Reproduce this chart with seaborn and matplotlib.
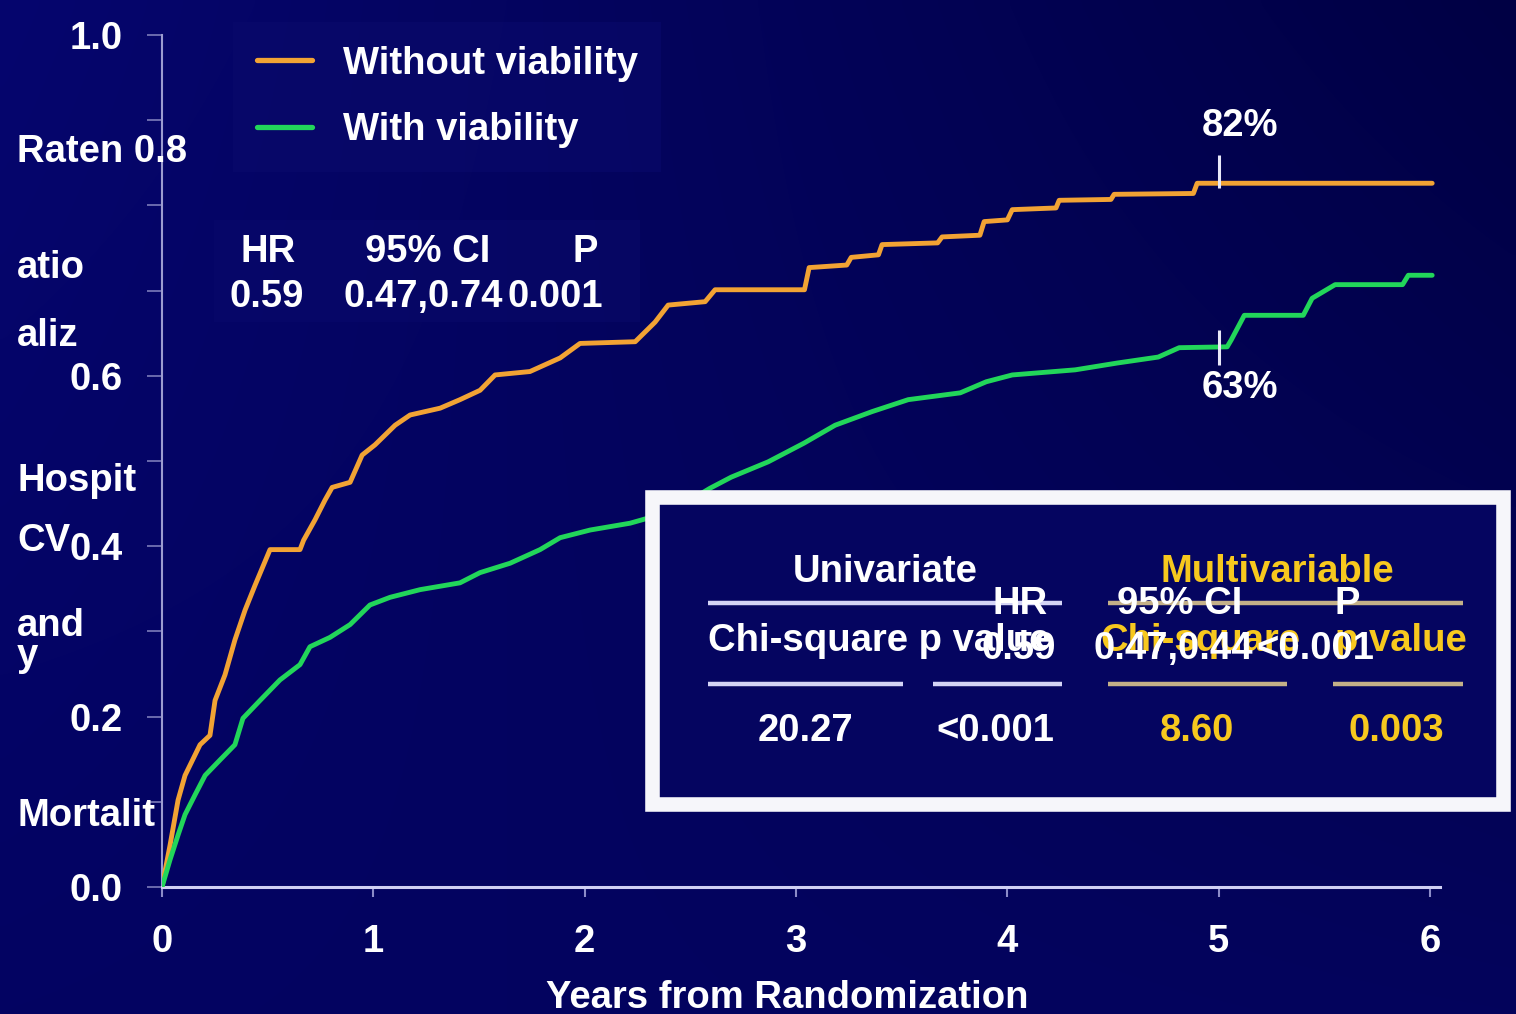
import numpy as np
import pandas as pd
import matplotlib
matplotlib.use("Agg")
import matplotlib.pyplot as plt
from matplotlib.patches import Rectangle
from matplotlib.lines import Line2D
import seaborn as sns

# Cumulative event curves (years from randomization, event rate)
without_years = [0.000, 0.038, 0.076, 0.109, 0.180, 0.227, 0.251, 0.298, 0.345, 0.393,
                 0.440, 0.511, 0.653, 0.670, 0.724, 0.771, 0.805, 0.890, 0.947, 1.008,
                 1.103, 1.174, 1.316, 1.410, 1.505, 1.576, 1.741, 1.884, 1.978, 2.239,
                 2.333, 2.395, 2.570, 2.617, 3.040, 3.062, 3.240, 3.261, 3.390, 3.407,
                 3.670, 3.691, 3.870, 3.890, 4.000, 4.023, 4.230, 4.245, 4.490, 4.505,
                 4.880, 4.898, 6.010]
without_rate = [0.000, 0.049, 0.102, 0.131, 0.167, 0.178, 0.219, 0.249, 0.290, 0.325,
                0.354, 0.396, 0.396, 0.407, 0.431, 0.454, 0.469, 0.475, 0.507, 0.519,
                0.542, 0.554, 0.562, 0.572, 0.583, 0.601, 0.605, 0.621, 0.638, 0.640,
                0.663, 0.683, 0.687, 0.701, 0.701, 0.727, 0.730, 0.739, 0.742, 0.754,
                0.756, 0.763, 0.765, 0.781, 0.783, 0.795, 0.797, 0.806, 0.807, 0.813,
                0.814, 0.826, 0.826]

with_years = [0.000, 0.038, 0.076, 0.109, 0.156, 0.204, 0.274, 0.345, 0.383, 0.464,
              0.558, 0.653, 0.700, 0.795, 0.890, 0.984, 1.079, 1.221, 1.410, 1.505,
              1.647, 1.789, 1.884, 2.026, 2.215, 2.357, 2.499, 2.593, 2.693, 2.868,
              3.038, 3.185, 3.360, 3.531, 3.777, 3.900, 4.023, 4.321, 4.520, 4.714,
              4.813, 5.040, 5.059, 5.121, 5.400, 5.442, 5.551, 5.870, 5.897, 6.010]
with_rate = [0.000, 0.032, 0.061, 0.085, 0.108, 0.131, 0.149, 0.167, 0.198, 0.219,
             0.243, 0.261, 0.282, 0.293, 0.308, 0.331, 0.340, 0.349, 0.357, 0.369,
             0.380, 0.396, 0.410, 0.419, 0.427, 0.437, 0.454, 0.468, 0.481, 0.499,
             0.521, 0.542, 0.558, 0.572, 0.580, 0.593, 0.601, 0.607, 0.615, 0.622,
             0.633, 0.634, 0.642, 0.671, 0.671, 0.691, 0.707, 0.707, 0.718, 0.718]

series_names = ["Without viability", "With viability"]
series_colors = ["#f2a334", "#22d65a"]

# Five-year marks
mark_year = 5
mark_labels = ["82%", "63%"]
mark_spans = [(0.820, 0.859), (0.613, 0.654)]
mark_text_y = [0.893, 0.586]

y_ticks = [0.0, 0.1, 0.2, 0.3, 0.4, 0.5, 0.6, 0.7, 0.8, 0.9, 1.0]
y_ticklabels = ["0.0", "", "0.2", "", "0.4", "", "0.6", "", "", "", "1.0"]
x_ticks = [0, 1, 2, 3, 4, 5, 6]

hr_header = ["HR", "95% CI", "P"]
hr_values = ["0.59", "0.47,0.74", "0.001"]

W, H = 1516, 1014
WHITE = "#ffffff"
GOLD = "#f7c81e"
FS = 27.5

sns.set_style("ticks")
plt.rcParams["font.family"] = ["Liberation Sans", "DejaVu Sans"]
plt.rcParams["font.weight"] = "bold"

fig = plt.figure(figsize=(W / 100, H / 100), dpi=100)


def fx(px):
    return px / W


def fy(py):
    return 1 - py / H


# Background with a soft colour gradient
bg = fig.add_axes([0, 0, 1, 1], zorder=-10)
tl = np.array([6, 6, 110]) / 255
tr = np.array([0, 0, 68]) / 255
bl = np.array([3, 3, 98]) / 255
br = np.array([4, 4, 92]) / 255
u = np.linspace(0, 1, 200)[None, :, None]
v = np.linspace(0, 1, 140)[:, None, None]
grad = (1 - v) * ((1 - u) * tl + u * tr) + v * ((1 - u) * bl + u * br)
bg.imshow(grad, aspect="auto", extent=[0, 1, 0, 1], interpolation="bicubic")
bg.set_axis_off()

ax = fig.add_axes([fx(162), fy(887), fx(1440) - fx(162), fy(35) - fy(887)])
ax.set_facecolor("none")

frames = []
for name, xs, ys in [(series_names[0], without_years, without_rate),
                     (series_names[1], with_years, with_rate)]:
    frames.append(pd.DataFrame({"year": xs, "rate": ys, "group": name}))
df = pd.concat(frames, ignore_index=True)

sns.lineplot(data=df, x="year", y="rate", hue="group", hue_order=series_names,
             palette=series_colors, estimator=None, sort=False,
             linewidth=3.5, ax=ax, legend=False, zorder=3)

ax.set_xlim(0, 6.047)
ax.set_ylim(0, 1.0)
ax.set_yticks(y_ticks)
ax.set_yticklabels(y_ticklabels)
ax.set_xticks(x_ticks)
ax.set_xticklabels([str(t) for t in x_ticks])
ax.set_xlabel("")
ax.set_ylabel("")
for s in ["top", "right"]:
    ax.spines[s].set_visible(False)
ax.spines["left"].set_color("#9c9cd0")
ax.spines["left"].set_linewidth(1.5)
ax.spines["bottom"].set_color("#d0d0f4")
ax.spines["bottom"].set_linewidth(2.2)
ax.tick_params(axis="y", direction="out", length=11, width=1.2, color="#7c7cba",
               pad=17, labelsize=FS, labelcolor=WHITE)
ax.tick_params(axis="x", direction="out", length=7, width=1.5, color="#8c8cc8",
               pad=20, labelsize=FS, labelcolor=WHITE)
for lab in ax.get_xticklabels() + ax.get_yticklabels():
    lab.set_fontweight("bold")

# Five-year markers
for (lo, hi), lab, ty in zip(mark_spans, mark_labels, mark_text_y):
    ax.vlines(mark_year, lo, hi, color="#e8e8f8", linewidth=2.2, zorder=4)
    ax.text(mark_year + 0.1, ty, lab, color=WHITE, fontsize=FS, fontweight="bold",
            ha="center", va="center", zorder=4)

# Legend
handles = [Line2D([], [], color=c, linewidth=3.8) for c in series_colors]
leg = fig.legend(handles, series_names, loc="upper left",
                 bbox_to_anchor=(fx(233), fy(22)), frameon=True, fontsize=FS,
                 handlelength=1.45, handletextpad=0.8, labelspacing=0.8,
                 borderpad=0.62, borderaxespad=0.0, fancybox=False)
leg.get_frame().set_facecolor("#0a0a6c")
leg.get_frame().set_edgecolor("none")
leg.get_frame().set_alpha(0.55)
for t in leg.get_texts():
    t.set_color(WHITE)
    t.set_fontweight("bold")

# Fragmented axis title
for txt, py in [("Raten 0.8", 162), ("atio", 278), ("aliz", 346), ("Hospit", 491),
                ("CV", 551), ("and", 636), ("y", 666), ("Mortalit", 826)]:
    fig.text(fx(17), fy(py), txt, color=WHITE, fontsize=FS, fontweight="bold",
             ha="left", va="baseline")

fig.text(fx(787), fy(1008), "Years from Randomization", color=WHITE, fontsize=FS,
         fontweight="bold", ha="center", va="baseline")

# Hazard ratio summary
fig.patches.append(Rectangle((fx(214), fy(322)), fx(640) - fx(214), fy(220) - fy(322),
                             transform=fig.transFigure, facecolor="#0a0a6c",
                             alpha=0.45, edgecolor="none", zorder=1))
for txt, px in zip(hr_header, [268, 428, 585]):
    fig.text(fx(px), fy(262), txt, color=WHITE, fontsize=FS, fontweight="bold",
             ha="center", va="baseline")
for txt, px in zip(hr_values, [267, 423, 555]):
    fig.text(fx(px), fy(307), txt, color=WHITE, fontsize=FS, fontweight="bold",
             ha="center", va="baseline")

# Framed test table
fig.patches.append(Rectangle((fx(652), fy(804)), fx(1503) - fx(652), fy(497) - fy(804),
                             transform=fig.transFigure, facecolor="#050560",
                             edgecolor="#f6f6fa", linewidth=10.5, zorder=5))

rule_white = "#d4d4f6"
rule_tan = "#c4b088"
for (x0, x1, py, col) in [(708, 1062, 603, rule_white), (1108, 1463, 603, rule_tan),
                          (708, 903, 684, rule_white), (933, 1062, 684, rule_white),
                          (1108, 1287, 684, rule_tan), (1333, 1463, 684, rule_tan)]:
    fig.add_artist(Line2D([fx(x0), fx(x1)], [fy(py), fy(py)], transform=fig.transFigure,
                          color=col, linewidth=3.2, solid_capstyle="butt", zorder=6))

table_text = [
    ("Univariate", 885, 582, WHITE, "center"),
    ("Multivariable", 1277, 582, GOLD, "center"),
    ("Chi-square", 1100, 651, GOLD, "left"),
    ("p value", 1335, 651, GOLD, "left"),
    ("Chi-square p value", 708, 651, WHITE, "left"),
    ("HR", 1020, 614, WHITE, "center"),
    ("95% CI", 1180, 614, WHITE, "center"),
    ("P", 1347, 614, WHITE, "center"),
    ("0.59", 1019, 659, WHITE, "center"),
    ("0.47,0.44", 1173, 659, WHITE, "center"),
    ("<0.001", 1315, 659, WHITE, "center"),
    ("20.27", 805, 741, WHITE, "center"),
    ("<0.001", 995, 741, WHITE, "center"),
    ("8.60", 1197, 741, GOLD, "center"),
    ("0.003", 1396, 741, GOLD, "center"),
]
for txt, px, py, col, ha in table_text:
    fig.text(fx(px), fy(py), txt, color=col, fontsize=FS, fontweight="bold",
             ha=ha, va="baseline", zorder=7)

fig.savefig("out.png", dpi=100, facecolor="#04045e")
